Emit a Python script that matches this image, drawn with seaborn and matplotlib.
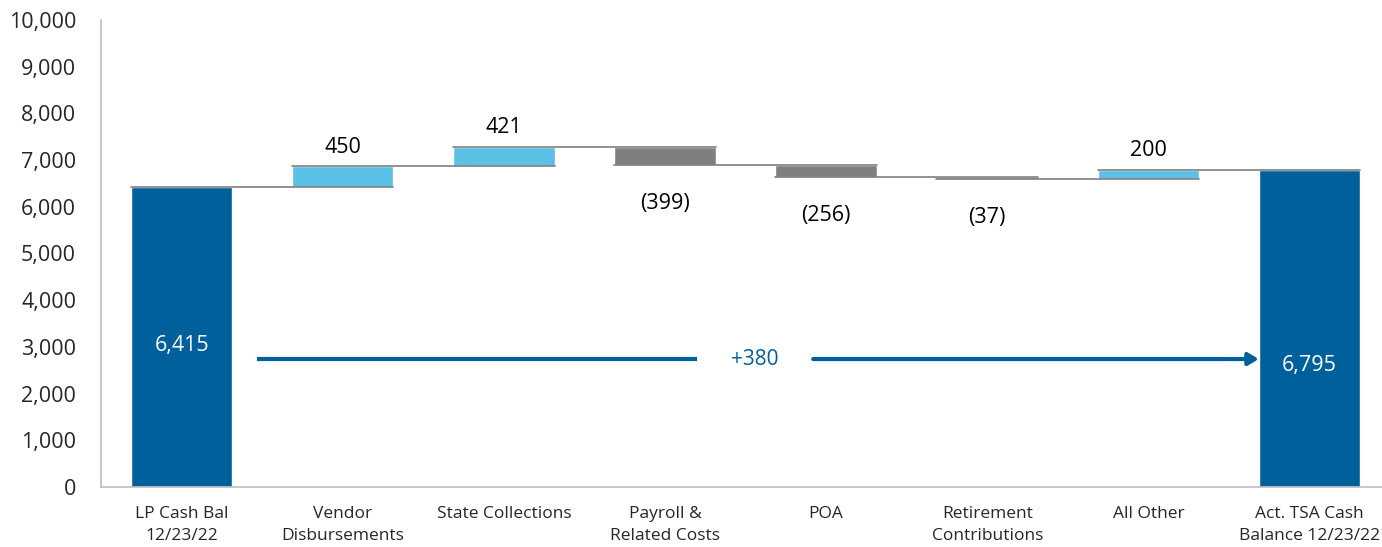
import matplotlib
matplotlib.use("Agg")
import matplotlib.pyplot as plt
import numpy as np
import seaborn as sns

categories = ["LP Cash Bal\n12/23/22", "Vendor\nDisbursements", "State Collections",
              "Payroll &\nRelated Costs", "POA", "Retirement\nContributions",
              "All Other", "Act. TSA Cash\nBalance 12/23/22"]
start_bal = 6415
deltas = [450, 421, -399, -256, -37, 200]
end_bal = 6795
net_change = "+380"

sns.set_theme(style="white")
plt.rcParams["font.family"] = ["Open Sans", "DejaVu Sans"]

DARK, LIGHT, GREY = "#00609b", "#5bc0e6", "#7f7f7f"

# bar geometry for the waterfall
levels = np.concatenate([[start_bal], start_bal + np.cumsum(deltas)])
bottoms = [0] + [min(levels[i], levels[i + 1]) for i in range(len(deltas))] + [0]
heights = [start_bal] + [abs(d) for d in deltas] + [end_bal]
colors = [DARK] + [LIGHT if d > 0 else (GREY if d < -50 else "#595959") for d in deltas] + [DARK]

fig = plt.figure(figsize=(13.82, 5.47), dpi=100)
ax = fig.add_axes([101 / 1382, 60 / 547, 1281 / 1382, 467 / 547])
sns.barplot(x=categories, y=heights, hue=categories, palette=colors, width=0.63,
            legend=False, ax=ax, saturation=1)
for p, b in zip(ax.patches, bottoms):
    p.set_y(b)

hw = 0.315
# connector lines
conn = [start_bal] + list(levels[1:])
for i in range(len(categories) - 1):
    ax.plot([i - hw, i + 1 + hw], [conn[i], conn[i]], color="#7f7f7f", lw=1.2, zorder=3)

# labels
ax.text(0, 3040, f"{start_bal:,}", color="white", ha="center", va="center", fontsize=15.5)
ax.text(7, 2610, f"{end_bal:,}", color="white", ha="center", va="center", fontsize=15.5)
for i, d in enumerate(deltas, start=1):
    top = bottoms[i] + heights[i]
    if d > 0:
        ax.annotate(f"{d:,}", (i, top), xytext=(0, 6), textcoords="offset points",
                    ha="center", va="bottom", fontsize=15.5, color="black")
    else:
        ax.annotate(f"({-d:,})", (i, bottoms[i]), xytext=(0, -20), textcoords="offset points",
                    ha="center", va="top", fontsize=15.5, color="black")

# net change arrow
ay = 2740
ax.plot([0.47, 3.2], [ay, ay], color=DARK, lw=3, solid_capstyle="butt")
ax.annotate("", xy=(7 - hw, ay), xytext=(3.92, ay),
            arrowprops=dict(arrowstyle="-|>,head_length=0.5,head_width=0.3", color=DARK,
                            lw=3, shrinkA=0, shrinkB=0))
ax.text(3.56, ay, net_change, color=DARK, ha="center", va="center", fontsize=15)

ax.set_ylim(0, 10000)
ax.set_xlim(-0.5, 7.45)
ax.set_yticks(range(0, 10001, 1000))
ax.yaxis.set_major_formatter(matplotlib.ticker.FuncFormatter(lambda v, _: f"{int(v):,}"))
ax.tick_params(axis="y", labelsize=15.5, pad=18, length=0)
ax.tick_params(axis="x", labelsize=12.5, pad=14, length=0)
for lbl in ax.get_xticklabels():
    lbl.set_linespacing(1.5)
for s in ["top", "right"]:
    ax.spines[s].set_visible(False)
for s in ["left", "bottom"]:
    ax.spines[s].set_color("#bfbfbf")
    ax.spines[s].set_linewidth(1.2)

fig.savefig("out.png", dpi=100)
